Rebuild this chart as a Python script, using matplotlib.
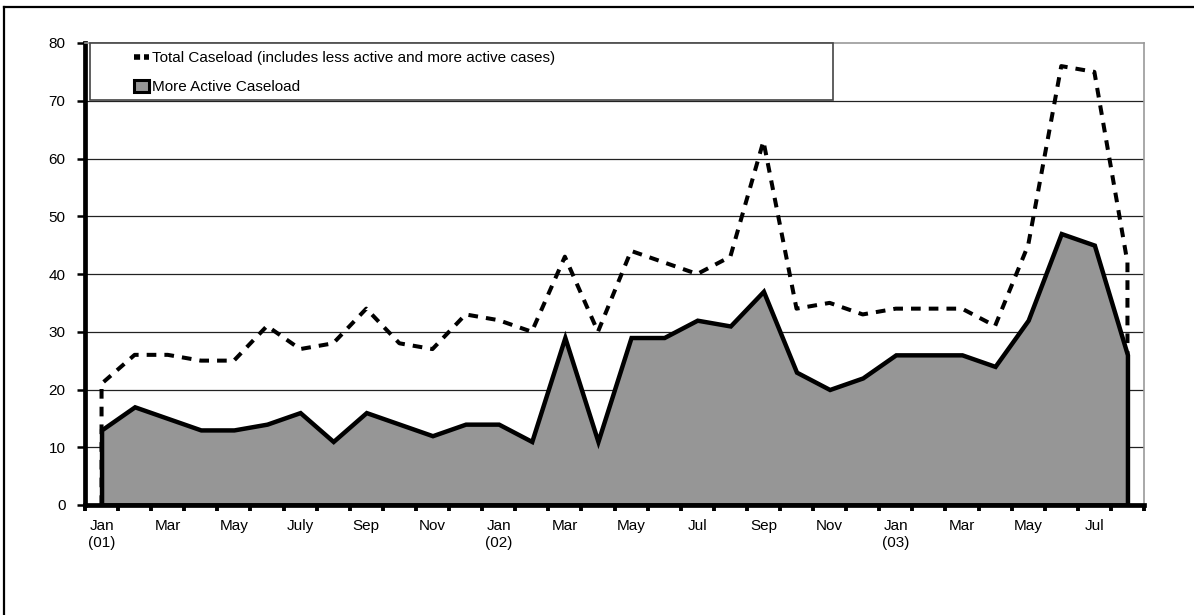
import matplotlib
matplotlib.use("Agg")
import matplotlib.pyplot as plt
from matplotlib.lines import Line2D
from matplotlib.patches import Patch, Rectangle

plt.rcParams['font.family'] = ['Liberation Sans', 'DejaVu Sans']

months = ["Jan 01", "Feb 01", "Mar 01", "Apr 01", "May 01", "Jun 01", "Jul 01", "Aug 01",
          "Sep 01", "Oct 01", "Nov 01", "Dec 01", "Jan 02", "Feb 02", "Mar 02", "Apr 02",
          "May 02", "Jun 02", "Jul 02", "Aug 02", "Sep 02", "Oct 02", "Nov 02", "Dec 02",
          "Jan 03", "Feb 03", "Mar 03", "Apr 03", "May 03", "Jun 03", "Jul 03", "Aug 03"]
total_caseload = [21, 26, 26, 25, 25, 31, 27, 28, 34, 28, 27, 33, 32, 30, 43, 30,
                  44, 42, 40, 43, 63, 34, 35, 33, 34, 34, 34, 31, 45, 76, 75, 42]
more_active = [13, 17, 15, 13, 13, 14, 16, 11, 16, 14, 12, 14, 14, 11, 29, 11,
               29, 29, 32, 31, 37, 23, 20, 22, 26, 26, 26, 24, 32, 47, 45, 26]
tick_labels = ["Jan\n(01)", "Mar", "May", "July", "Sep", "Nov", "Jan\n(02)", "Mar",
               "May", "Jul", "Sep", "Nov", "Jan\n(03)", "Mar", "May", "Jul"]
y_ticks = [0, 10, 20, 30, 40, 50, 60, 70, 80]
legend_labels = ["Total Caseload (includes less active and more active cases)",
                 "More Active Caseload"]

W, H = 1194, 615
AX_L, AX_R, AX_T, AX_B = 85, 1144, 43, 505
fig = plt.figure(figsize=(W / 100, H / 100), dpi=100)
ax = fig.add_axes([AX_L / W, (H - AX_B) / H, (AX_R - AX_L) / W, (AX_B - AX_T) / H])

x = [i + 0.5 for i in range(len(months))]
dash = (0, (2.4, 2.0))

ax.fill_between(x, total_caseload, 0, facecolor='none', edgecolor='black',
                linestyle=dash, linewidth=2.9, zorder=3)
ax.fill_between(x, more_active, 0, facecolor='#969696', edgecolor='black',
                linewidth=3.2, zorder=4, joinstyle='miter')

ax.set_xlim(0, len(months))
ax.set_ylim(0, 80)

ax.set_yticks(y_ticks)
ax.set_yticklabels([str(v) for v in y_ticks], fontsize=11)
ax.tick_params(axis='y', direction='out', length=6, width=1.8, pad=8)

ax.set_xticks(range(len(months) + 1))
ax.set_xticklabels([])
ax.tick_params(axis='x', which='major', direction='out', length=4, width=2.8)
ax.set_xticks([x[i] for i in range(0, len(months), 2)], minor=True)
ax.set_xticklabels(tick_labels, minor=True, fontsize=11, linespacing=1.25)
ax.tick_params(axis='x', which='minor', length=0, pad=10)

for v in y_ticks[1:-1]:
    ax.axhline(v, color='#222222', linewidth=0.9, zorder=1)

ax.spines['left'].set_linewidth(3.4)
ax.spines['bottom'].set_linewidth(3.4)
ax.spines['top'].set_color('#999999')
ax.spines['right'].set_color('#999999')
ax.spines['top'].set_linewidth(1.2)
ax.spines['right'].set_linewidth(1.2)
for s in ax.spines.values():
    s.set_zorder(6)

def px_to_ax(px, py):
    return ((px - AX_L) / (AX_R - AX_L), (AX_B - py) / (AX_B - AX_T))

# legend frame
lx0, ly0 = px_to_ax(90, 100)
lx1, ly1 = px_to_ax(833, 43)
ax.add_patch(Rectangle((lx0, ly0), lx1 - lx0, ly1 - ly0, transform=ax.transAxes,
                       facecolor='white', edgecolor='#444444', linewidth=1.2,
                       zorder=7, clip_on=False))

handles = [Line2D([], [], color='black', linestyle=(0, (1.1, 0.7)), linewidth=4),
           Patch(facecolor='#969696', edgecolor='black', linewidth=2.2)]
ax_x, ax_y = px_to_ax(131, 48)
leg = ax.legend(handles, legend_labels, loc='upper left', bbox_to_anchor=(ax_x, ax_y),
                fontsize=11, frameon=False, handlelength=0.95, handleheight=0.85,
                handletextpad=0.2, borderpad=0.2, labelspacing=0.95, borderaxespad=0)
leg.set_zorder(8)

# figure border
fig.add_artist(Line2D([3.5 / W, 1], [1 - 7 / H, 1 - 7 / H], color='black', linewidth=1.6))
fig.add_artist(Line2D([3.5 / W, 3.5 / W], [0, 1 - 7 / H], color='black', linewidth=1.6))

fig.savefig("out.png", dpi=100)
